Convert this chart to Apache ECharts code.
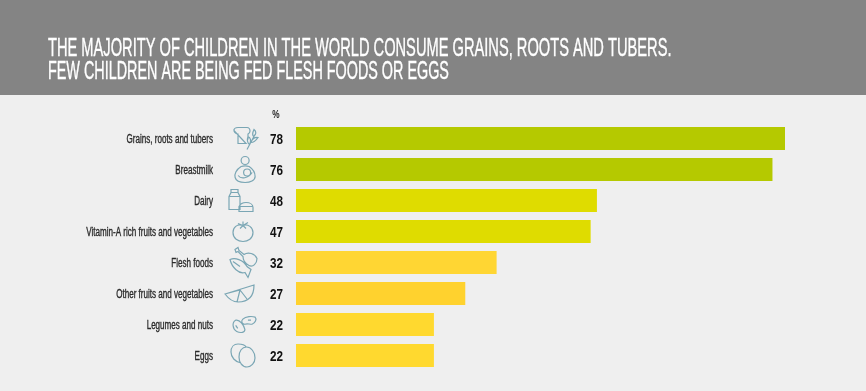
<!DOCTYPE html>
<html><head><meta charset="utf-8">
<style>html,body{margin:0;padding:0;background:#efefef}#c{width:866px;height:391px}</style>
<script src="https://cdn.jsdelivr.net/npm/echarts@6/dist/echarts.min.js"></script></head>
<body><div id="c"></div>
<script>
const titleLines = ['THE MAJORITY OF CHILDREN IN THE WORLD CONSUME GRAINS, ROOTS AND TUBERS.','FEW CHILDREN ARE BEING FED FLESH FOODS OR EGGS'];
const categories = ['Grains, roots and tubers','Breastmilk','Dairy','Vitamin-A rich fruits and vegetables','Flesh foods','Other fruits and vegetables','Legumes and nuts','Eggs'];
const values = [78,76,48,47,32,27,22,22];
const barColors = ['#b5c900','#b5c900','#dfdc00','#dfdc00','#ffd633','#ffd22e','#ffd92f','#ffd92f'];
const icons = [
 {dx:-62,w:24,h:22,d:'M0 3C0 1 2 0 4 0H13C15 0 16 2 16 3.5C16 5 15 6 14 6.5V12M12 16H4V6.5C2 6 0 5 0 3ZM13 22L21 7M15.5 17C13 15 13 12 14 9C16.5 10 17.5 13 15.5 17ZM17 15C20 15 22 13 24 10C20 9.5 18 12 17 15ZM19.5 9C18 7 19 4 20 2C22.5 4 22.5 7 19.5 9Z'},
 {dx:-62,w:22,h:26,d:'M7 4A4 4 0 1 0 15 4A4 4 0 1 0 7 4ZM7 10C2 13 0 18 1 21C2 25 7 26 11 26C16 26 21 24 21 20C21 16 18 12 15 10C12 9 10 9 7 10ZM9.5 16A3.5 3.5 0 1 0 16.5 16A3.5 3.5 0 1 0 9.5 16ZM4 19C7 23 14 22 18 16'},
 {dx:-68,w:26,h:22,d:'M2 7L4 3V0H11V3L13 7V20H2ZM2 7H13M4 3H11M12 21V17C13 15 15 13 19 13C23 13 26 15 26 18V22H12ZM13 17H26'},
 {dx:-63,w:20,h:20,d:'M10 4C4 2 0 6 0 11C0 17 5 20 10 20C15 20 20 17 20 11C20 6 15 2 10 4ZM10 0V4M5 2L10 4L15 1M7 7L10 4L13 7'},
 {dx:-66,w:27,h:30,d:'M0 12C5 10 13 12 17 19L21 22L18 30L15 25C9 27 2 20 0 12ZM5 2L8 0L9 3L14 7C18 4 25 6 27 11C27 16 23 20 19 18C15 16 13 12 13 9L8 4L6 5ZM3 14L10 19'},
 {dx:-71,w:29,h:17,d:'M0 9L29 0C29 8 26 17 13 17C7 17 3 13 0 9ZM0 9L15 5L12 17M15 5L22 14'},
 {dx:-63,w:23,h:16,d:'M3 4C7 3 11 9 12 13C12 16 8 17 4 15C0 13 -1 6 3 4ZM10 3C13 0 19 0 22 1C24 3 22 7 19 8C16 8 14 7 12 8C9 8 8 5 10 3ZM3 9L5 12M15 4H18'},
 {dx:-65,w:24,h:23,d:'M8 13C8 7 11 3 15.5 3C20 3 24 8 24 14C24 19 20 23 16 23C11 23 8 18 8 13ZM10 19C4 18 0 13 0 8C0 3 3 0 7 0C11 0 14 1 15 3'}
];
const chart = echarts.init(document.getElementById('c'));
const face = '"Liberation Sans",sans-serif';
chart.setOption({
 backgroundColor:'#efefef',
 animation:false,
 graphic:[
  {type:'rect',z:-1,shape:{x:0,y:0,width:866,height:95},style:{fill:'#848484'}},
  {type:'text',x:48,y:37,scaleX:0.586,style:{text:titleLines[0],fill:'#fff',stroke:'#fff',lineWidth:0.4,font:'25px '+face}},
  {type:'text',x:48,y:60,scaleX:0.575,style:{text:titleLines[1],fill:'#fff',stroke:'#fff',lineWidth:0.4,font:'25px '+face}},
  {type:'text',x:276,y:115,scaleX:0.75,style:{text:'%',fill:'#222',font:'bold 11px '+face,align:'center',verticalAlign:'middle'}}
 ],
 grid:{left:296,top:123,width:489,height:248},
 xAxis:{type:'value',min:0,max:78,show:false},
 yAxis:{type:'category',inverse:true,data:categories,axisLine:{show:false},axisTick:{show:false},axisLabel:{show:false}},
 series:[
  {type:'bar',barWidth:23,data:values.map((v,i)=>({value:v,itemStyle:{color:barColors[i]}}))},
  {type:'custom',silent:true,clip:false,data:values.map((v,i)=>[0,i]),
   renderItem:(p,api)=>{
     const i=p.dataIndex, c=api.coord([0,i]), ic=icons[i];
     return {type:'group',children:[
       {type:'path',shape:{pathData:ic.d,x:c[0]+ic.dx,y:c[1]-ic.h/2,width:ic.w,height:ic.h},
        style:{fill:'none',stroke:'#7aa6b4',lineWidth:1.2}},
       {type:'text',x:c[0]-83,y:c[1]+1,scaleX:0.672,style:{text:categories[i],fill:'#2a2a2a',stroke:'#2a2a2a',lineWidth:0.35,font:'12px '+face,align:'right',verticalAlign:'middle'}},
       {type:'text',x:c[0]-13,y:c[1]+1,scaleX:0.78,style:{text:String(values[i]),fill:'#111',font:'bold 15px '+face,align:'right',verticalAlign:'middle'}}
     ]};
   }}
 ]
});
</script></body></html>
